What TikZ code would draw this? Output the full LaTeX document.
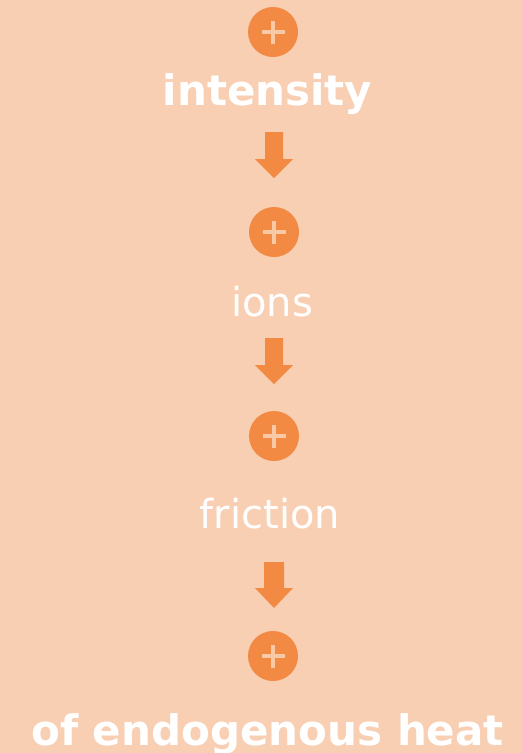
\documentclass[tikz,border=0pt]{standalone}
\usepackage{fontspec}
\setmainfont{DejaVu Sans}
\definecolor{bgpeach}{HTML}{F8CFB3}
\definecolor{orng}{HTML}{F28A43}
\definecolor{pluscol}{HTML}{F8C9A6}
\begin{document}
\begin{tikzpicture}[x=1pt,y=-1pt,
  plusdot/.style={circle,fill=orng,minimum size=50pt,inner sep=0pt,
    path picture={\fill[pluscol] ([xshift=-11.5pt,yshift=-2.2pt]path picture bounding box.center) rectangle ++(23pt,4.4pt);
                  \fill[pluscol] ([xshift=-2.2pt,yshift=-11.5pt]path picture bounding box.center) rectangle ++(4.4pt,23pt);}},
  boldlbl/.style={text=white,font=\fontsize{42}{50}\selectfont\bfseries,anchor=base,inner sep=0pt},
  lbl/.style={text=white,font=\fontsize{40}{48}\selectfont,anchor=base,inner sep=0pt},
  downarrow/.style={fill=orng}]
\fill[bgpeach] (0,0) rectangle (522,753);
\useasboundingbox (0,0) rectangle (522,753);
\node[plusdot] (c1) at (273,32) {};
\node[boldlbl] (t1) at (267.5,105) {intensity};
\coordinate (a1) at (274,132);
\fill[downarrow] (a1) ++(-9,0) -- ++(18,0) -- ++(0,27) -- ++(10,0) -- ++(-19,19) -- ++(-19,-19) -- ++(10,0) -- cycle;
\node[plusdot] (c2) at (274,232) {};
\node[lbl] (t2) at (272,316) {ions};
\coordinate (a2) at (274,338);
\fill[downarrow] (a2) ++(-9,0) -- ++(18,0) -- ++(0,27) -- ++(10,0) -- ++(-19,19) -- ++(-19,-19) -- ++(10,0) -- cycle;
\node[plusdot] (c3) at (274,436) {};
\node[lbl] (t3) at (270,528) {friction};
\coordinate (a3) at (274,562);
\fill[downarrow] (a3) ++(-10,0) -- ++(20,0) -- ++(0,26) -- ++(9,0) -- ++(-19,20) -- ++(-19,-20) -- ++(9,0) -- cycle;
\node[plusdot] (c4) at (273,656) {};
\node[boldlbl] (t4) at (267.5,745) {of endogenous heat};
\end{tikzpicture}
\end{document}
